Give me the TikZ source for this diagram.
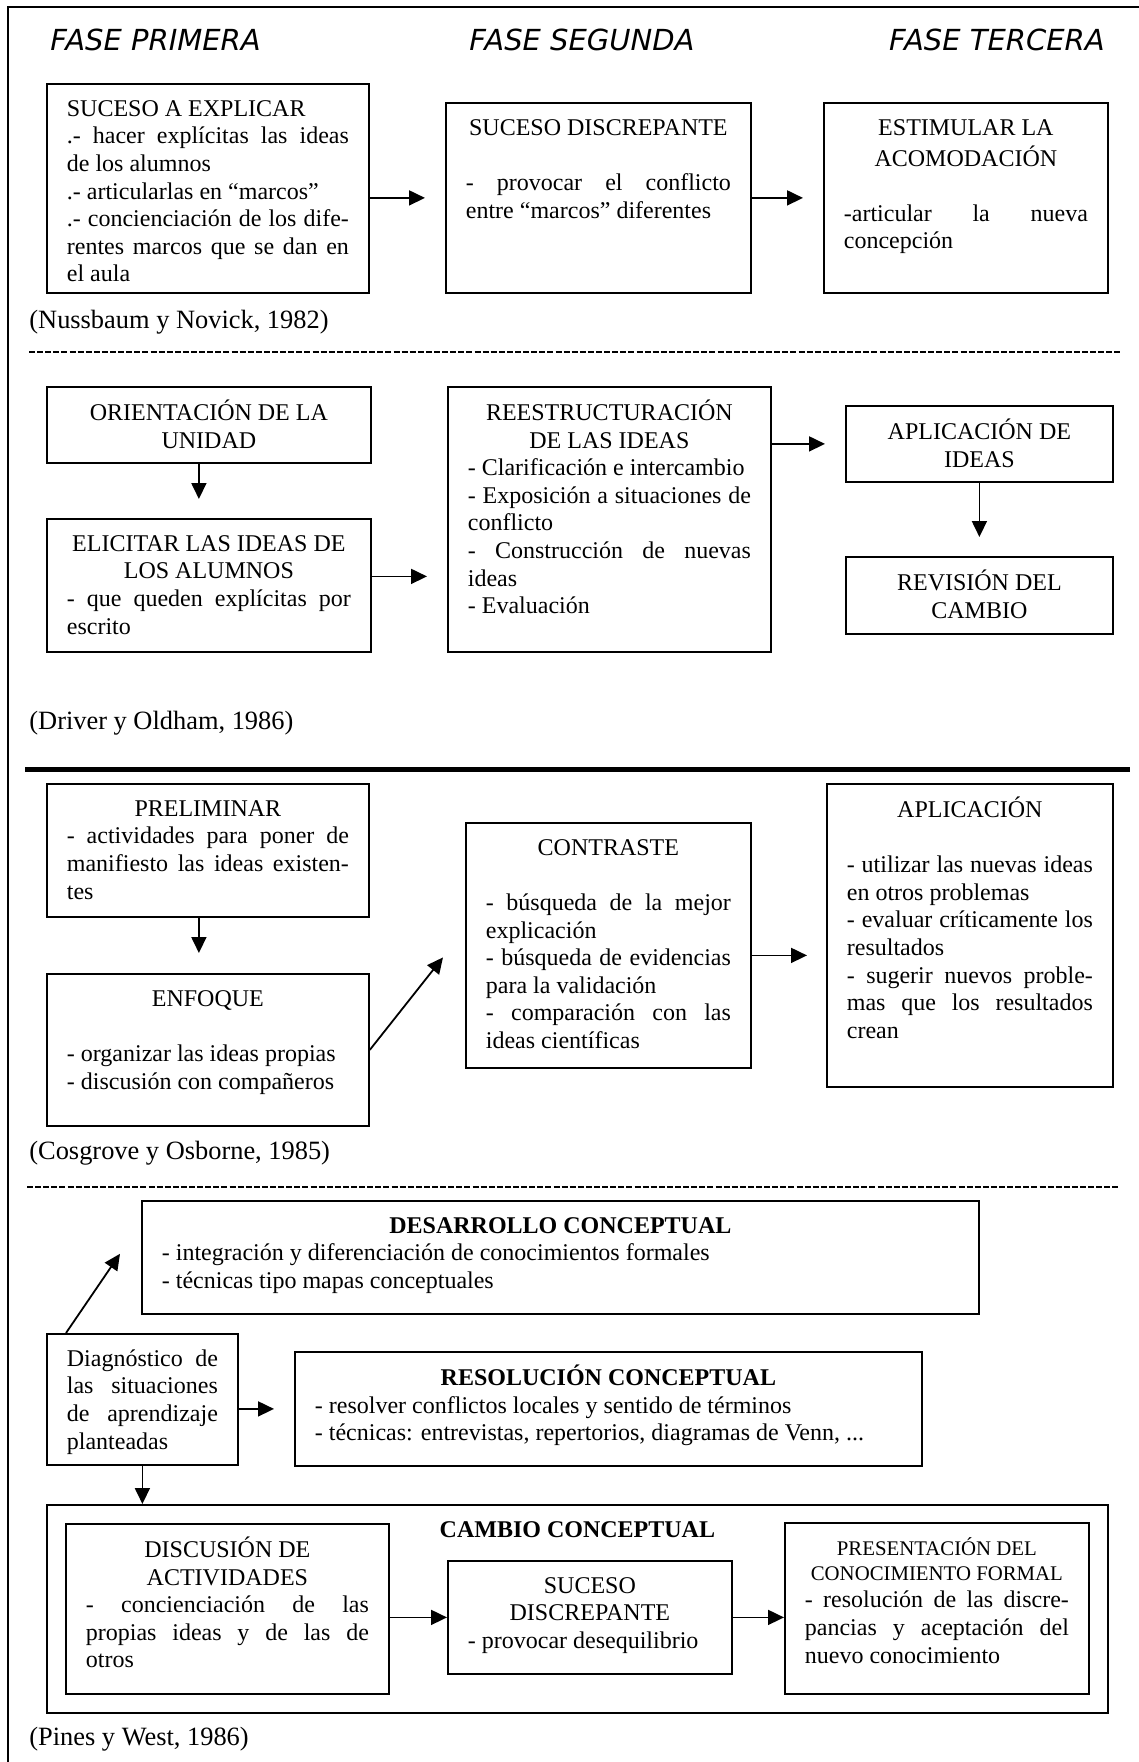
\documentclass[tikz,border=0pt]{standalone}
\usepackage{fontspec}
\setmainfont{Liberation Serif}
\newfontfamily\fasefont{DejaVu Sans}
\usetikzlibrary{arrows.meta, calc}

\newcommand{\contenido}[3]{\parbox[c][#2][t]{#1}{\strut#3}}

\tikzset{
  caja/.style={draw, line width=0.9pt, anchor=north west, inner xsep=10pt, inner ysep=6.5pt, font=\fontsize{12}{13.8}\selectfont},
  flecha/.style={-{Triangle[length=8pt,width=7.5pt]}, line width=0.9pt},
  fase/.style={font=\fasefont\itshape\fontsize{14.5}{17}\selectfont, inner sep=0pt},
  cita/.style={font=\fontsize{13.2}{15}\selectfont, anchor=west, inner sep=0pt},
  separador/.style={line width=1pt, dash pattern=on 3pt off 1.05pt}
}

\begin{document}
\begin{tikzpicture}[x=0.5pt, y=-0.5pt]
        \useasboundingbox (0,0) rectangle (1139,1762);
        \draw[line width=1pt] (8,1762) -- (8,7) -- (1139,7);

        \node[fase, anchor=base west] (fase1) at (50,50) {FASE PRIMERA};
        \node[fase, anchor=base] (fase2) at (582,50) {FASE SEGUNDA};
        \node[fase, anchor=base east] (fase3) at (1105,50) {FASE TERCERA};

        \node[caja] (suceso) at (46,83) {\contenido{141pt}{91.5pt}{SUCESO A EXPLICAR\par
          .- hacer explícitas las ideas\linebreak de los alumnos\par
          .- articularlas en “marcos”\par
          .- concienciación de los dife-\linebreak rentes marcos que se dan en\linebreak el aula}};
        \node[caja] (discrep) at (445,102) {\contenido{132.5pt}{82pt}{{\centering SUCESO DISCREPANTE\par}\vspace{\baselineskip}
          - provocar el conflicto\linebreak entre “marcos” diferentes}};
        \node[caja] (estimular) at (823,102) {\contenido{122pt}{82pt}{{\centering ESTIMULAR LA\\ACOMODACIÓN\par}\vspace{\baselineskip}
          -articular la nueva\linebreak concepción}};

        \draw[flecha, shorten >=10pt] (suceso.east |- discrep.west) -- (discrep.west);
        \draw[flecha, shorten >=10pt] (discrep.east) -- (estimular.west);

        \node[cita] (nussbaum) at (29,322) {(Nussbaum y Novick, 1982)};
        \draw[separador] (29,352) -- (1120,352);

        \node[caja] (orient) at (46,386) {\contenido{142pt}{25pt}{{\centering ORIENTACIÓN DE LA\\UNIDAD\par}}};
        \node[caja] (elicit) at (46,518) {\contenido{142pt}{53.5pt}{{\centering ELICITAR LAS IDEAS DE\\LOS ALUMNOS\par}
          - que queden explícitas por\linebreak escrito}};
        \node[caja] (reest) at (447,386) {\contenido{141.5pt}{119.5pt}{{\centering REESTRUCTURACIÓN\\DE LAS IDEAS\par}
          - Clarificación e intercambio\par
          - Exposición a situaciones de\linebreak conflicto\par
          - Construcción de nuevas\linebreak ideas\par
          - Evaluación}};
        \node[caja] (aplideas) at (845,405) {\contenido{113.5pt}{25pt}{{\centering APLICACIÓN DE\\IDEAS\par}}};
        \node[caja] (revision) at (845,556) {\contenido{113.5pt}{25.5pt}{{\centering REVISIÓN DEL\\CAMBIO\par}}};

        \draw[flecha, shorten >=9.5pt] ($(orient.south)+(-5pt,0)$) -- ($(orient.south |- elicit.north)+(-5pt,0)$);
        \draw[flecha, shorten >=10pt] ($(elicit.east)+(0,4.5pt)$) -- ($(elicit.east -| reest.west)+(0,4.5pt)$);
        \draw[flecha, shorten >=10pt] (reest.east |- aplideas.west) -- (aplideas.west);
        \draw[flecha, shorten >=9.5pt] (aplideas.south) -- (revision.north);

        \node[cita] (driver) at (29,723) {(Driver y Oldham, 1986)};
        \draw[line width=2.25pt] (25,769.5) -- (1130,769.5);

        \node[caja] (prelim) at (46,783) {\contenido{141pt}{53.5pt}{{\centering PRELIMINAR\par}
          - actividades para poner de\linebreak manifiesto las ideas existen-\linebreak tes}};
        \node[caja] (enfoque) at (46,973) {\contenido{141pt}{63pt}{{\centering ENFOQUE\par}\vspace{\baselineskip}
          - organizar las ideas propias\par
          - discusión con compañeros}};
        \node[caja] (contraste) at (465,822) {\contenido{122.5pt}{109.5pt}{{\centering CONTRASTE\par}\vspace{\baselineskip}
          - búsqueda de la mejor\linebreak explicación\par
          - búsqueda de evidencias\linebreak para la validación\par
          - comparación con las\linebreak ideas científicas}};
        \node[caja] (aplicacion) at (826,783) {\contenido{123pt}{138.5pt}{{\centering APLICACIÓN\par}\vspace{\baselineskip}
          - utilizar las nuevas ideas\linebreak en otros problemas\par
          - evaluar críticamente los\linebreak resultados\par
          - sugerir nuevos proble-\linebreak mas que los resultados\linebreak crean}};

        \draw[flecha, shorten >=10pt] ($(prelim.south)+(-4.5pt,0)$) -- ($(prelim.south |- enfoque.north)+(-4.5pt,0)$);
        \draw[flecha] (enfoque.east) -- ($(contraste.west)+(-11pt,-6pt)$);
        \draw[flecha, shorten >=9.5pt] ($(contraste.east)+(0,-5pt)$) -- ($(contraste.east -| aplicacion.west)+(0,-5pt)$);

        \node[cita] (cosgrove) at (29,1153) {(Cosgrove y Osborne, 1985)};
        \draw[separador] (27,1187) -- (1120,1187);

        \node[caja] (desarr) at (141,1200) {\contenido{398.5pt}{43.5pt}{{\centering\bfseries DESARROLLO CONCEPTUAL\par}
          - integración y diferenciación de conocimientos formales\par
          - técnicas tipo mapas conceptuales}};
        \node[caja] (diag) at (46,1333) {\contenido{75.5pt}{52.5pt}{Diagnóstico de\linebreak las situaciones\linebreak de aprendizaje\linebreak planteadas}};
        \node[caja] (resol) at (294,1351) {\contenido{293.5pt}{44pt}{{\centering\bfseries RESOLUCIÓN CONCEPTUAL\par}
          - resolver conflictos locales y sentido de términos\par
          - técnicas: entrevistas, repertorios, diagramas de Venn, ...}};
        \node[caja] (cambio) at (46,1504) {\contenido{510.5pt}{91pt}{{\centering\bfseries CAMBIO CONCEPTUAL\par}}};
        \node[caja] (disc) at (65,1523) {\contenido{141.5pt}{72pt}{{\centering DISCUSIÓN DE\\ACTIVIDADES\par}
          - concienciación de las\linebreak propias ideas y de las de\linebreak otros}};
        \node[caja] (suc) at (447,1560) {\contenido{122pt}{43.5pt}{{\centering SUCESO\\DISCREPANTE\par}
          - provocar desequilibrio}};
        \node[caja] (pres) at (784,1522) {\contenido{132pt}{72.5pt}{{\centering\fontsize{10.4}{12.5}\selectfont PRESENTACIÓN DEL\\CONOCIMIENTO FORMAL\par}
          - resolución de las discre-\linebreak pancias y aceptación del\linebreak nuevo conocimiento}};

        \draw[flecha] ($(diag.north west)+(10pt,0)$) -- ($(desarr.south west)+(-10.5pt,30.5pt)$);
        \draw[flecha, shorten >=10pt] (diag.east |- resol.west) -- (resol.west);
        \draw[flecha] (diag.south) -- (diag.south |- cambio.north);
        \draw[flecha] (disc.east |- suc.west) -- (suc.west);
        \draw[flecha] (suc.east) -- (suc.east -| pres.west);

        \node[cita] (pines) at (29,1739) {(Pines y West, 1986)};
\end{tikzpicture}
\end{document}
